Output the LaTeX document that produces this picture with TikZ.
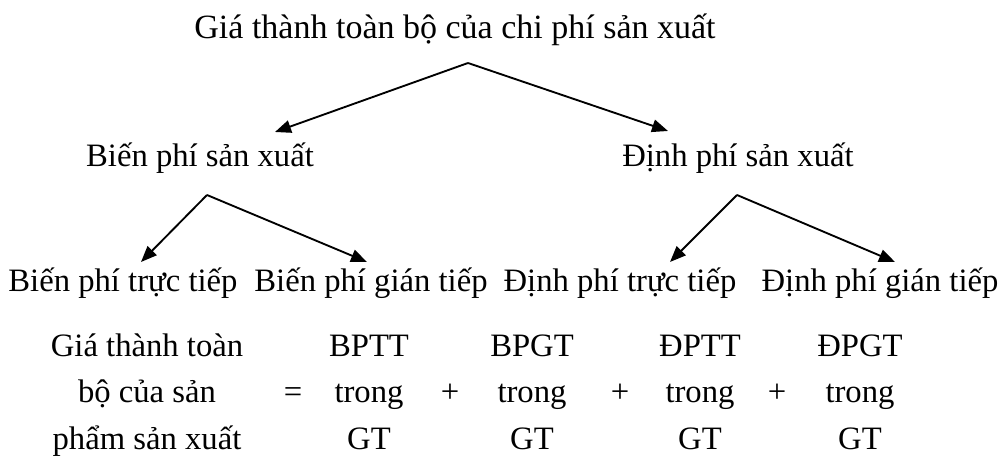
\documentclass[tikz,border=0pt]{standalone}
\usepackage{fontspec}
\setmainfont{Liberation Serif}
\usetikzlibrary{arrows.meta}

\tikzset{
  lbl/.style={anchor=base, inner sep=0pt, font=\fontsize{24.5}{29}\selectfont},
  branch/.style={line width=1.4pt, -{Triangle[length=12pt,width=9.5pt]}}
}

\begin{document}
\begin{tikzpicture}[x=0.75pt, y=-0.75pt]
  \useasboundingbox (0,0) rectangle (1001,459);

  % cost tree
  \node[lbl, font=\fontsize{25.5}{30}\selectfont] (total) at (455,39) {Giá thành toàn bộ của chi phí sản xuất};
  \node[lbl] (bp) at (200,167) {Biến phí sản xuất};
  \node[lbl] (dp) at (738,167) {Định phí sản xuất};
  \node[lbl] (bptt) at (123,292) {Biến phí trực tiếp};
  \node[lbl] (bpgt) at (371,292) {Biến phí gián tiếp};
  \node[lbl] (dptt) at (620,292) {Định phí trực tiếp};
  \node[lbl] (dpgt) at (880,292) {Định phí gián tiếp};

  \coordinate (fork0) at (468,63);
  \coordinate (fork1) at (207,195);
  \coordinate (fork2) at (737,195);
  \coordinate (tip bp) at (275,132);
  \coordinate (tip dp) at (668,131);
  \coordinate (tip bptt) at (141,262);
  \coordinate (tip bpgt) at (367,262);
  \coordinate (tip dptt) at (670,262);
  \coordinate (tip dpgt) at (895,262);

  \draw[branch] (fork0) -- (tip bp);
  \draw[branch] (fork0) -- (tip dp);
  \draw[branch] (fork1) -- (tip bptt);
  \draw[branch] (fork1) -- (tip bpgt);
  \draw[branch] (fork2) -- (tip dptt);
  \draw[branch] (fork2) -- (tip dpgt);

  % formula below the tree
  \node[lbl] (sum1) at (147,357) {Giá thành toàn};
  \node[lbl] (sum2) at (147,403) {bộ của sản};
  \node[lbl] (sum3) at (147,450) {phẩm sản xuất};
  \node[lbl] (eq) at (293,403) {=};
  \foreach \x/\t in {369/BPTT, 532/BPGT, 700/ĐPTT, 860/ĐPGT}{
    \node[lbl] at (\x,357) {\t};
    \node[lbl] at (\x,403) {trong};
    \node[lbl] at (\x,450) {GT};
  }
  \foreach \x in {450, 620, 777}
    \node[lbl] at (\x,403) {+};
\end{tikzpicture}
\end{document}
